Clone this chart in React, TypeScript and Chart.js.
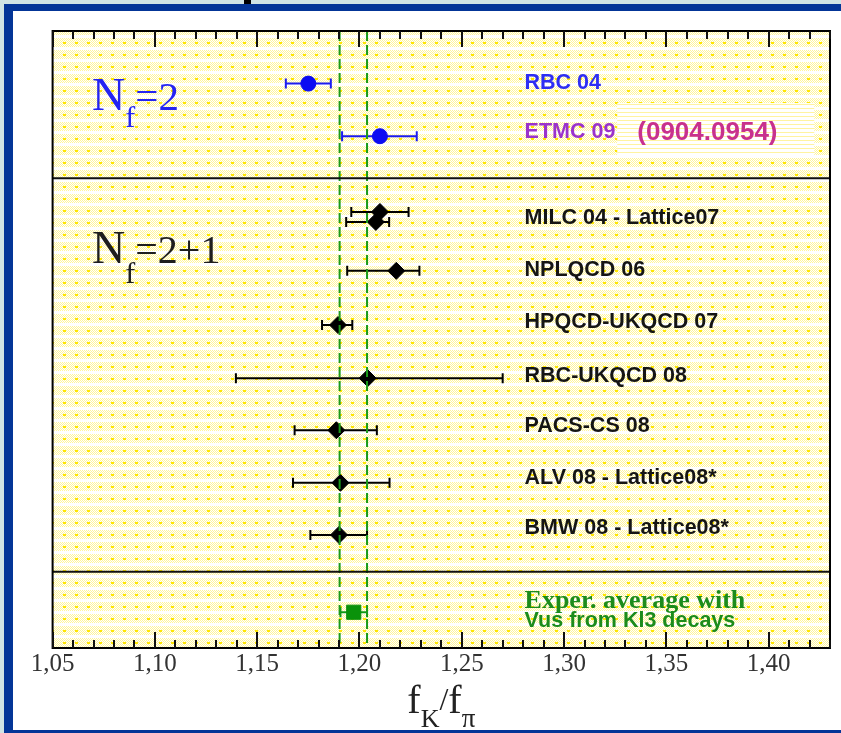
import { useEffect, useRef } from 'react';
import { Chart, registerables } from 'chart.js';
Chart.register(...registerables);

// ---------- data ----------
const xAxisMin = 1.05;
const xAxisMax = 1.43;
const minorStep = 0.01;
const majorEvery = 5;
const rowAxisMax = 11.73;

const nf2Values = [1.175, 1.21];
const nf2ErrLow = [0.011, 0.0185];
const nf2ErrHigh = [0.011, 0.018];
const nf2Rows = [1.0, 2.0];
const nf2Labels = ['RBC 04', 'ETMC 09'];
const nf2LabelRows = [0.99, 1.915];

const nf21Values = [1.21, 1.208, 1.218, 1.1895, 1.204, 1.1887, 1.1907, 1.19];
const nf21ErrLow = [0.014, 0.0145, 0.024, 0.0078, 0.0644, 0.0204, 0.0232, 0.014];
const nf21ErrHigh = [0.014, 0.0065, 0.0113, 0.007, 0.066, 0.0198, 0.024, 0.0137];
const nf21Rows = [3.44, 3.63, 4.56, 5.59, 6.6, 7.59, 8.59, 9.58];
const nf21Labels = [
  'MILC 04 - Lattice07',
  'NPLQCD 06',
  'HPQCD-UKQCD 07',
  'RBC-UKQCD 08',
  'PACS-CS 08',
  'ALV 08 - Lattice08*',
  'BMW 08 - Lattice08*',
];
const nf21LabelRows = [3.555, 4.544, 5.527, 6.56, 7.52, 8.5, 9.45];

const experValues = [1.1972];
const experErrLow = [0.0065];
const experErrHigh = [0.0065];
const experRows = [11.05];
const experLines = ['Exper. average with', 'Vus from Kl3 decays'];
const experLineRows = [10.97, 11.33];

const bandEdges = [1.1903, 1.2037];
const sectionSeparators = [2.8, 10.28];
const labelColumn = 1.2807;
const groupTitleRows = [1.5, 4.41];
const groupTitleColumn = 1.0693;
const refNote = '(0904.0954)';
const refBoxX = [1.326, 1.4223];
const refBoxY = [1.37, 2.36];
const refTextAt = [1.3358, 1.93];

const SANS = '"Liberation Sans", Arial, sans-serif';
const SERIF = '"Liberation Serif", "Times New Roman", serif';

function mk(values: number[], lo: number[], hi: number[], rows: number[]) {
  return values.map((v, i) => ({ x: v, y: rows[i], lo: lo[i], hi: hi[i] }));
}

function makePattern(ctx: CanvasRenderingContext2D) {
  const c = document.createElement('canvas');
  c.width = 12;
  c.height = 12;
  const p = c.getContext('2d')!;
  p.fillStyle = '#ffffff';
  p.fillRect(0, 0, 12, 12);
  for (let y = 3; y < 12; y++) {
    for (let x = 0; x < 12; x++) {
      if ((x + y) % 2 === 0) {
        p.fillStyle = '#fff59a';
        p.fillRect(x, y, 1, 1);
      }
    }
  }
  p.fillStyle = '#ffe600';
  p.fillRect(2, 7, 3, 2);
  return ctx.createPattern(c, 'repeat');
}

const decorPlugin = {
  id: 'decor',
  beforeDatasetsDraw(chart: any) {
    const { ctx, chartArea: a } = chart;
    ctx.save();
    ctx.fillStyle = makePattern(ctx) || '#ffffd0';
    ctx.fillRect(a.left, a.top, a.right - a.left, a.bottom - a.top);
    ctx.restore();
    const xs = chart.scales.x;
    chart.data.datasets.forEach((ds: any, di: number) => {
      const meta = chart.getDatasetMeta(di);
      ctx.save();
      ctx.strokeStyle = ds.errColor;
      ctx.lineWidth = 2;
      meta.data.forEach((el: any, i: number) => {
        const raw = ds.data[i];
        const x0 = xs.getPixelForValue(raw.x - raw.lo);
        const x1 = xs.getPixelForValue(raw.x + raw.hi);
        const y = el.y;
        ctx.beginPath();
        ctx.moveTo(x0, y);
        ctx.lineTo(x1, y);
        ctx.moveTo(x0, y - 5);
        ctx.lineTo(x0, y + 5);
        ctx.moveTo(x1, y - 5);
        ctx.lineTo(x1, y + 5);
        ctx.stroke();
      });
      ctx.restore();
    });
  },
  afterDatasetsDraw(chart: any) {
    const { ctx, chartArea: a } = chart;
    const xs = chart.scales.x;
    const ys = chart.scales.y;
    const px = (v: number) => xs.getPixelForValue(v);
    const py = (v: number) => ys.getPixelForValue(v);
    ctx.save();
    ctx.strokeStyle = '#1a9a1a';
    ctx.lineWidth = 2;
    ctx.setLineDash([10, 4]);
    bandEdges.forEach((v) => {
      ctx.beginPath();
      ctx.moveTo(px(v), a.top);
      ctx.lineTo(px(v), a.bottom);
      ctx.stroke();
    });
    ctx.setLineDash([]);
    ctx.strokeStyle = '#111111';
    ctx.lineWidth = 2;
    sectionSeparators.forEach((r) => {
      ctx.beginPath();
      ctx.moveTo(a.left, py(r));
      ctx.lineTo(a.right, py(r));
      ctx.stroke();
    });
    const bx0 = px(refBoxX[0]);
    const bx1 = px(refBoxX[1]);
    const by0 = py(refBoxY[0]);
    const by1 = py(refBoxY[1]);
    ctx.fillStyle = '#ffffff';
    ctx.fillRect(bx0, by0, bx1 - bx0, by1 - by0);
    ctx.fillStyle = '#fff3a0';
    for (let y = by0 + 1; y < by1; y += 4) ctx.fillRect(bx0, Math.round(y), bx1 - bx0, 1);
    ctx.font = `bold 26px ${SANS}`;
    ctx.fillStyle = '#c8318e';
    ctx.textBaseline = 'middle';
    ctx.textAlign = 'left';
    ctx.fillText(refNote, px(refTextAt[0]), py(refTextAt[1]));
    ctx.font = `bold 21.5px ${SANS}`;
    const nf2Colors = ['#2e2ef5', '#9a33cc'];
    nf2Labels.forEach((t, i) => {
      ctx.fillStyle = nf2Colors[i];
      ctx.fillText(t, px(labelColumn), py(nf2LabelRows[i]));
    });
    ctx.fillStyle = '#151515';
    nf21Labels.forEach((t, i) => ctx.fillText(t, px(labelColumn), py(nf21LabelRows[i])));
    ctx.textBaseline = 'alphabetic';
    ctx.fillStyle = '#1c8c1c';
    ctx.font = `bold 26px ${SERIF}`;
    ctx.fillText(experLines[0], px(labelColumn), py(experLineRows[0]));
    ctx.font = `bold 21.5px ${SANS}`;
    ctx.fillText(experLines[1], px(labelColumn), py(experLineRows[1]));
    const drawParts = (parts: [string, number, number][], x: number, base: number, color: string) => {
      ctx.fillStyle = color;
      let cx = x;
      parts.forEach(([t, size, dy]) => {
        ctx.font = `${size}px ${SERIF}`;
        ctx.fillText(t, cx, base + dy);
        cx += ctx.measureText(t).width;
      });
      return cx - x;
    };
    drawParts([['N', 46, 0], ['f', 30, 17], ['=2', 41, 0]], px(groupTitleColumn), py(groupTitleRows[0]), '#2424f2');
    drawParts([['N', 46, 0], ['f', 30, 20], ['=2+1', 40, 0]], px(groupTitleColumn), py(groupTitleRows[1]), '#1e1e1e');
    const tparts: [string, number, number][] = [['f', 40, 0], ['K', 26, 14], ['/', 32, -3], ['f', 40, 0], ['π', 27, 14]];
    let w = 0;
    tparts.forEach(([t, s]) => {
      ctx.font = `${s}px ${SERIF}`;
      w += ctx.measureText(t).width;
    });
    drawParts(tparts, (a.left + a.right) / 2 - w / 2, a.bottom + 65, '#222');
    ctx.restore();
  },
  afterDraw(chart: any) {
    const { ctx, chartArea: a } = chart;
    const xs = chart.scales.x;
    ctx.save();
    ctx.setLineDash([]);
    ctx.strokeStyle = '#000000';
    ctx.lineWidth = 2;
    ctx.strokeRect(a.left, a.top, a.right - a.left, a.bottom - a.top);
    const n = Math.round((xAxisMax - xAxisMin) / minorStep);
    ctx.strokeStyle = '#111111';
    ctx.lineWidth = 2;
    ctx.beginPath();
    for (let k = 0; k <= n; k++) {
      const x = Math.round(xs.getPixelForValue(xAxisMin + k * minorStep));
      const L = k % majorEvery === 0 ? 16 : 8;
      ctx.moveTo(x, a.top);
      ctx.lineTo(x, a.top + L);
      ctx.moveTo(x, a.bottom);
      ctx.lineTo(x, a.bottom - L);
    }
    ctx.stroke();
    ctx.restore();
  },
};

export default function App() {
  const ref = useRef<HTMLCanvasElement>(null);
  useEffect(() => {
    if (!ref.current) return;
    const chart = new Chart(ref.current, {
      type: 'scatter',
      data: {
        datasets: [
          {
            data: mk(nf2Values, nf2ErrLow, nf2ErrHigh, nf2Rows),
            pointStyle: 'circle',
            pointRadius: 7.5,
            backgroundColor: '#0c0cf2',
            borderColor: '#0c0cf2',
            borderWidth: 1,
            errColor: '#1c1cf0',
          } as any,
          {
            data: mk(nf21Values, nf21ErrLow, nf21ErrHigh, nf21Rows),
            pointStyle: 'rectRot',
            pointRadius: 8.5,
            backgroundColor: '#000',
            borderColor: '#000',
            borderWidth: 1,
            errColor: '#000',
          } as any,
          {
            data: mk(experValues, experErrLow, experErrHigh, experRows),
            pointStyle: 'rect',
            pointRadius: 10,
            backgroundColor: '#0a920a',
            borderColor: '#0a920a',
            borderWidth: 1,
            errColor: '#119911',
          } as any,
        ],
      },
      options: {
        animation: false,
        responsive: false,
        maintainAspectRatio: false,
        events: [],
        layout: { padding: { left: 39.6, top: 20, right: 10.2, bottom: 0 } },
        plugins: { legend: { display: false }, tooltip: { enabled: false } },
        scales: {
          x: {
            type: 'linear',
            min: xAxisMin,
            max: xAxisMax,
            grid: { display: false, drawTicks: false },
            border: { display: false },
            ticks: {
              stepSize: 0.05,
              includeBounds: false,
              autoSkip: false,
              maxRotation: 0,
              padding: 1,
              color: '#333',
              font: { family: SERIF, size: 25 },
              callback: (v: any) => Number(v).toFixed(2).replace('.', ','),
            },
            afterFit: (s: any) => {
              s.height = 82;
            },
          },
          y: { type: 'linear', min: 0, max: rowAxisMax, reverse: true, display: false },
        },
      },
      plugins: [decorPlugin],
    } as any);
    return () => chart.destroy();
  }, []);
  return (
    <div style={{ position: 'fixed', left: 0, top: 0, width: 841, height: 733, background: '#d0e4e4', overflow: 'hidden' }}>
      <div style={{ position: 'absolute', left: 244, top: 0, width: 7, height: 4, background: '#000' }} />
      <div style={{ position: 'absolute', left: 4, top: 4, width: 837, height: 729, background: '#033597' }} />
      <div style={{ position: 'absolute', left: 13, top: 11, width: 828, height: 719, background: '#fff' }}>
        <canvas ref={ref} width={828} height={719} style={{ display: 'block', width: 828, height: 719 }} />
      </div>
    </div>
  );
}
